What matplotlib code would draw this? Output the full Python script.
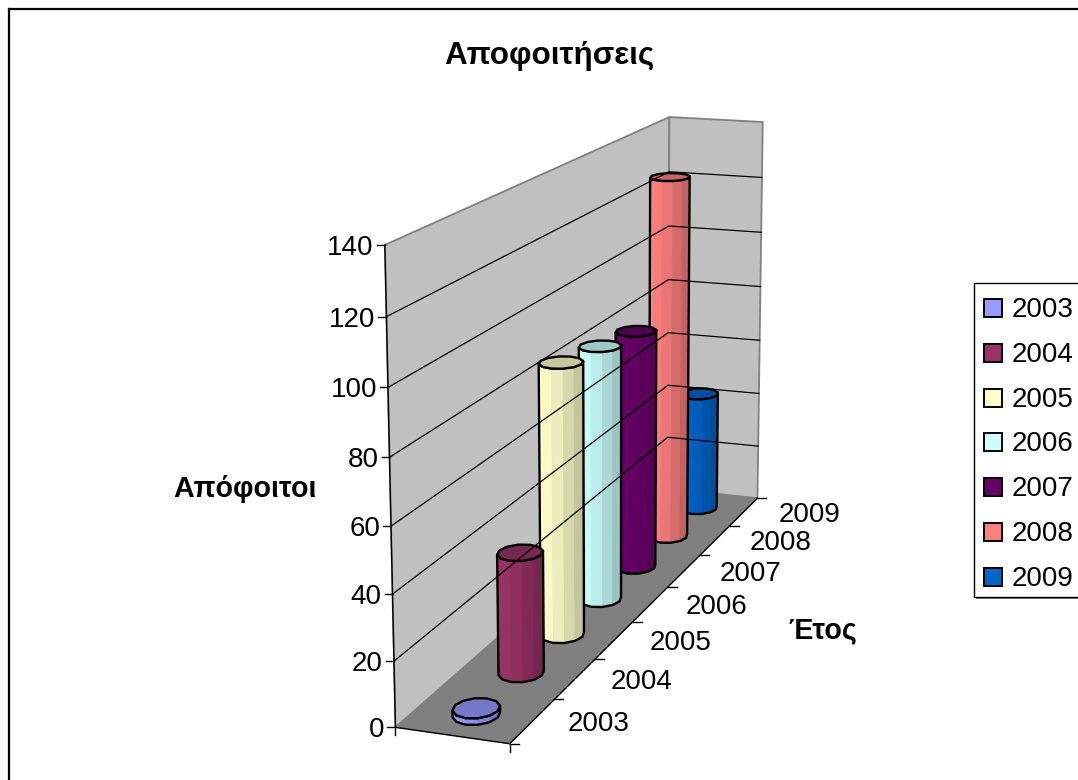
import numpy as np
import matplotlib
matplotlib.use('Agg')
import matplotlib.pyplot as plt
from matplotlib.patches import Polygon, Rectangle

plt.rcParams['font.family'] = ['Liberation Sans', 'DejaVu Sans']

# data
years = ['2003', '2004', '2005', '2006', '2007', '2008', '2009']
graduates = [2, 38, 88, 85, 82, 128, 43]
colors = ['#9999FF', '#993366', '#FFFFCC', '#CCFFFF', '#660066', '#FF8080', '#0066CC']
value_ticks = [0, 20, 40, 60, 80, 100, 120, 140]
max_value = 140

# box corners of the 3d chart (width, depth, height) -> picture pixels
box_3d = [(0, 0, 0), (1, 0, 0), (1, 1, 0), (0, 1, 0), (0, 0, 1), (0, 1, 1), (1, 1, 1)]
box_px = [(395, 727), (510, 744), (757, 498), (668, 489), (385, 245), (669, 117), (763, 122)]

# fit the perspective projection
A, b = [], []
for (u, v, h), (px, py) in zip(box_3d, box_px):
    A.append([u, v, h, 1, 0, 0, 0, 0, -px * u, -px * v, -px * h])
    A.append([0, 0, 0, 0, u, v, h, 1, -py * u, -py * v, -py * h])
    b += [px, py]
P = np.linalg.lstsq(np.array(A, float), np.array(b, float), rcond=None)[0]


def project(u, v, h):
    w = P[8] * u + P[9] * v + P[10] * h + 1
    return ((P[0] * u + P[1] * v + P[2] * h + P[3]) / w,
            (P[4] * u + P[5] * v + P[6] * h + P[7]) / w)


def shade(color, f):
    return np.clip(np.array(matplotlib.colors.to_rgb(color)) * f, 0, 1)


fig = plt.figure(figsize=(10.78, 7.8), dpi=100)
ax = fig.add_axes([0, 0, 1, 1])
ax.set_xlim(0, 1078)
ax.set_ylim(780, 0)
ax.axis('off')

# outer frame
ax.plot([9, 9], [9, 780], color='black', lw=1.6)
ax.plot([9, 1078], [9, 9], color='black', lw=1.6)

# walls and floor
wall1 = [project(0, 0, 0), project(0, 1, 0), project(0, 1, 1), project(0, 0, 1)]
wall2 = [project(0, 1, 0), project(1, 1, 0), project(1, 1, 1), project(0, 1, 1)]
floor = [project(0, 0, 0), project(1, 0, 0), project(1, 1, 0), project(0, 1, 0)]
ax.add_patch(Polygon(wall1, fc='#C0C0C0', ec='#808080', lw=1.3))
ax.add_patch(Polygon(wall2, fc='#C0C0C0', ec='#808080', lw=1.3))
ax.add_patch(Polygon(floor, fc='#808080', ec='#808080', lw=0.5))

# gridlines
for val in value_ticks[1:-1]:
    h = val / max_value
    pts = [project(0, 0, h), project(0, 1, h), project(1, 1, h)]
    ax.plot([p[0] for p in pts], [p[1] for p in pts], color='black', lw=0.9)

# axis lines
pts = [project(0, 0, 1), project(0, 0, 0), project(1, 0, 0), project(1, 1, 0)]
ax.plot([p[0] for p in pts], [p[1] for p in pts], color='black', lw=1.0)

# value ticks
for val in value_ticks:
    x, y = project(0, 0, val / max_value)
    ax.plot([x - 8, x], [y, y], color='black', lw=1.0)
    ax.text(x - 11, y + 3, str(val), ha='right', va='center', fontsize=20)
x, y = project(0, 0, 0)
ax.plot([x, x], [y, y + 8], color='black', lw=1.0)
x, y = project(1, 0, 0)
ax.plot([x, x], [y, y + 8], color='black', lw=1.0)

# category ticks
for i in range(len(years) + 1):
    x, y = project(1, i / len(years), 0)
    ax.plot([x, x + 9], [y, y], color='black', lw=1.0)
for i, year in enumerate(years):
    x, y = project(1, (i + 0.5) / len(years), 0)
    ax.text(x + 66, y + 3, year, ha='center', va='center', fontsize=20)

# cylinders, back to front
# the base is sheared in floor coordinates so that it looks like a flat ellipse
n_sides = 12
ru, rv = 0.175, 0.03
uc = 0.515
angles = np.arange(n_sides + 1) * 2 * np.pi / n_sides + 0.13
for i in range(len(years) - 1, -1, -1):
    vc = (i + 0.5) / len(years) - 0.004
    h = graduates[i] / max_value
    us = uc + ru * np.cos(angles) - 2.37 * rv * np.sin(angles)
    vs = vc + 0.0714 * ru * np.cos(angles) + rv * np.sin(angles)
    bottom = np.array([project(u, v, 0) for u, v in zip(us, vs)])
    top = np.array([project(u, v, h) for u, v in zip(us, vs)])
    xmin, xmax = bottom[:, 0].min(), bottom[:, 0].max()
    visible = []
    for k in range(n_sides):
        quad = np.array([bottom[k], bottom[k + 1], top[k + 1], top[k]])
        area = np.sum(quad[:, 0] * np.roll(quad[:, 1], -1) - np.roll(quad[:, 0], -1) * quad[:, 1])
        if area < 0:
            visible.append(k)
    # start the chain at the gap, so the visible sides are contiguous
    while (visible[0] - 1) % n_sides in visible:
        visible = visible[-1:] + visible[:-1]
    for k in visible:
        quad = [bottom[k], bottom[k + 1], top[k + 1], top[k]]
        t = ((bottom[k][0] + bottom[k + 1][0]) / 2 - xmin) / (xmax - xmin)
        col = shade(colors[i], 1.0 - 0.28 * t ** 1.5 if i != 4 else 1.0 - 0.2 * t ** 2)
        ax.add_patch(Polygon(quad, fc=col, ec=col, lw=0.5))
    chain = [bottom[k] for k in visible] + [bottom[(visible[-1] + 1) % n_sides]]
    chain += [top[(visible[-1] + 1) % n_sides]] + [top[k] for k in visible[::-1]]
    ax.add_patch(Polygon(chain, fc='none', ec='black', lw=1.7, joinstyle='round'))
    ax.add_patch(Polygon(top[:-1], fc=shade(colors[i], 0.78), ec='black', lw=1.7, joinstyle='round'))

# titles
ax.text(549, 56, 'Αποφοιτήσεις', ha='center', va='center', fontsize=22.6, fontweight='bold')
ax.text(245, 489, 'Απόφοιτοι', ha='center', va='center', fontsize=20.6, fontweight='bold')
ax.text(823, 630, 'Έτος', ha='center', va='center', fontsize=20.6, fontweight='bold')

# legend, cut off by the right edge as in the original
ax.add_patch(Rectangle((976, 285), 110, 314, fc='#808080', ec='none'))
ax.add_patch(Rectangle((974, 283), 110, 314, fc='white', ec='black', lw=1.0))
for i, year in enumerate(years):
    yc = 308 + i * 44.83
    ax.add_patch(Rectangle((984, yc - 9), 18, 18, fc=colors[i], ec='black', lw=1.4))
    ax.text(1012, yc + 2, year, ha='left', va='center', fontsize=20)

fig.savefig('out.png', dpi=100)
